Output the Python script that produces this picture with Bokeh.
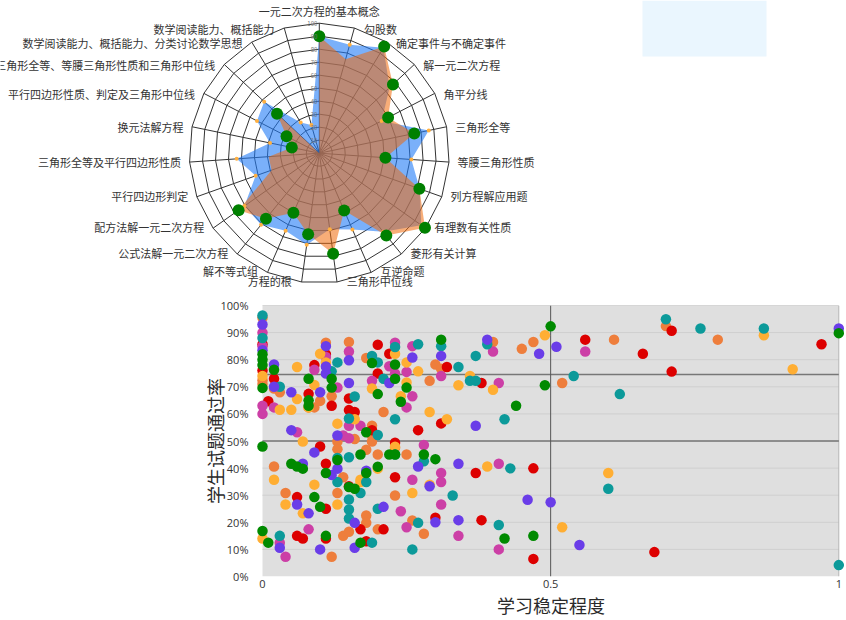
import numpy as np
from bokeh.plotting import figure
from bokeh.models import Range1d, FixedTicker, BoxAnnotation, Column
from bokeh.core.properties import value
from bokeh.embed import file_html
from bokeh.resources import INLINE

CJK = "Noto Sans CJK SC"

radar_labels = ["一元二次方程的基本概念", "勾股数", "确定事件与不确定事件", "解一元二次方程", "角平分线",
                "三角形全等", "等腰三角形性质", "列方程解应用题", "有理数有关性质", "菱形有关计算", "互逆命题",
                "三角形中位线", "方程的根", "解不等式组", "公式法解一元二次方程", "配方法解一元二次方程",
                "平行四边形判定", "三角形全等及平行四边形性质", "换元法解方程", "平行四边形性质、判定及三角形中位线",
                "三角形全等、等腰三角形性质和三角形中位线", "数学阅读能力、概括能力、分类讨论数学思想", "数学阅读能力、概括能力"]
radar_blue = [90, 86.7, 95, 74, 54, 86, 71, 82, 96, 78, 64, 59, 71, 65, 71, 70.5, 52, 63.7, 38.7, 54, 58, 27.6, 22.5]
radar_orange = [90, 75, 96, 77.5, 59.6, 74.6, 51, 81.7, 99.5, 81.7, 48, 78, 63, 50, 65, 76, 39, 39, 21.6, 28.4, 44.5, 0, 0]
radar_has_green = [1, 0, 1, 1, 1, 1, 1, 1, 1, 1, 1, 1, 1, 1, 1, 1, 0, 0, 1, 1, 1, 0, 0]
radar_ticks = [10, 20, 30, 40, 50, 60, 70, 80, 90, 100]

green_x = [0,0,0,0,0,0,.01,.02,.05,.06,.07,.08,.08,.08,.09,.10,.11,.11,.12,.12,.13,.15,.16,.17,.17,.18,.18,.19,.20,.20,.22,.23,.23,.23,.24,.25,.28,.30,.31,.42,.44,.47,.49,.50,1]
green_y = [82,80,78,69.6,48,16.8,12.5,76.3,41.6,40.6,39.8,73,65,63,29.3,25.7,38.2,15,73,69.7,43,33,32.4,45,12.5,53.2,38.2,78.8,67.3,40.5,45,78.2,73,45,64.5,69.7,45,43.3,87.4,14,63,15,70.6,92.3,89.8]
teal_x = [0,0,.03,.03,.12,.13,.13,.13,.15,.15,.15,.15,.15,.16,.17,.18,.19,.19,.20,.20,.20,.21,.23,.23,.23,.26,.27,.27,.28,.31,.33,.34,.36,.37,.37,.39,.42,.43,.41,.54,.60,.62,.70,.76,.87,1]
teal_y = [96.3,88,70,15,75.7,79,43.7,34.9,58.3,44,28.4,24.7,21.4,66.4,30.8,34.9,81.4,12.5,79,52.2,25,73,84.7,58,45,10,85.7,19.8,42.5,85,29.9,77.3,72.2,72.2,81.4,85.7,58,39.9,19,74,32.4,67.3,94.9,91.5,91.5,4.2]
orange_x = [0,0,0,.02,.02,.03,.04,.08,.09,.10,.11,.12,.12,.13,.13,.13,.14,.14,.15,.15,.16,.18,.18,.18,.18,.19,.19,.19,.20,.20,.21,.23,.23,.25,.26,.28,.29,.30,.31,.40,.45,.47,.52,.61,.70,.79]
orange_y = [95.5,72.4,71,69.4,40.6,68,30.8,62.4,62.4,64.8,86.3,66.5,7.3,49.8,47,30.8,36.6,15,86.5,16.5,50.7,80.6,46.8,22.5,19.8,55.6,52,49.8,45,17.4,60.7,47.5,29.9,45,20.7,15.8,72.2,78.2,76.7,86.5,84,86.5,71.4,87.4,92.4,87.4]
yellow_x = [0,0,.02,.03,.04,.05,.06,.06,.07,.07,.08,.09,.09,.10,.11,.13,.13,.16,.17,.17,.19,.20,.23,.23,.24,.25,.25,.26,.27,.29,.29,.32,.34,.36,.39,.40,.49,.52,.60,.87,.92]
yellow_y = [74,14,35.7,61.5,26.6,61.5,77.3,65.5,49.8,23.3,62.4,70.7,33.9,82.2,79,56.4,26.6,58,35.7,34.9,69.4,39.8,82.2,47.9,66.5,79,71.6,30.8,75.7,60.7,33.9,58,70.6,74,40.6,68.9,89,18.2,38.2,89,76.5]
red_x = [0,0,.01,.02,.06,.06,.07,.08,.09,.10,.11,.11,.11,.11,.12,.15,.15,.15,.16,.17,.18,.19,.20,.20,.21,.22,.23,.23,.27,.30,.31,.32,.37,.38,.38,.47,.47,.56,.66,.68,.71,.71,.97]
red_y = [85.7,76,64.7,73,29.3,15,14,67.4,78,48,41.6,25,14,82,63,65.7,61.4,33.3,60.7,17.4,13,54,85.5,74.9,17.4,82.2,49.4,36.6,54,21.7,56.5,77.3,38.2,71.4,20.8,39.9,6.5,87.4,82.2,9,90.7,75.6,85.7]
violet_x = [0,0,.02,.02,.03,.05,.05,.06,.07,.08,.09,.10,.10,.11,.11,.11,.12,.13,.13,.15,.15,.16,.16,.18,.21,.22,.26,.27,.29,.30,.31,.34,.34,.37,.39,.46,.48,.50,.51,.55,1]
violet_y = [93,83.5,78.2,70,10.6,68,54,26.6,41.6,23.3,45.8,68,10,85,77.5,74.9,37.5,52,39.8,79.8,71.4,19.8,10.6,39,25.7,71.4,80.8,40.6,33.3,20,81.4,41.6,20.8,55.6,87.4,28.3,82.2,27.4,84.8,11.6,91.5]
magenta_x = [0,0,0,0,.02,.03,.04,.06,.08,.09,.11,.13,.14,.15,.15,.15,.17,.19,.22,.23,.23,.24,.25,.25,.25,.26,.26,.26,.28,.31,.31,.31,.31,.34,.40,.41,.41,.41,.56]
magenta_y = [90,85,63,60,62.4,12.5,7.3,53.2,17.4,76.3,81,69.7,52,83,55.6,51,55.6,72.2,77.6,86.3,74.9,24.1,75.5,62.4,18.2,85,66.5,35.7,48.5,74,38.2,34.9,26.6,15,83,71.4,41.6,10,83]

y_ticks = [0, 10, 20, 30, 40, 50, 60, 70, 80, 90, 100]
x_ticks = [0, 0.5, 1]
mean_x = 0.5
mean_y = 50
upper_y = 74.5

# ---------- radar ----------
W, H1, H2 = 846, 295, 325
SCALE = 1.3          # px per radar unit
CX, CY = 318.8, 152.7
p1 = figure(width=W, height=H1, output_backend="svg", toolbar_location=None,
            x_axis_type=None, y_axis_type=None, min_border=0, outline_line_color=None,
            x_range=Range1d(-CX / SCALE, (W - CX) / SCALE),
            y_range=Range1d(-(H1 - CY) / SCALE, CY / SCALE))
n = len(radar_labels)
theta = np.arange(n) * 2 * np.pi / n
sx, cy = np.sin(theta), np.cos(theta)

p1.multi_line([list(t * np.append(sx, sx[0])) for t in radar_ticks],
              [list(t * np.append(cy, cy[0])) for t in radar_ticks],
              line_color="#333333", line_width=1)
p1.multi_line([[0, 100 * a] for a in sx], [[0, 100 * b] for b in cy], line_color="#333333", line_width=1)

blue = np.array(radar_blue)
orange = np.array(radar_orange)
p1.patch(blue * sx, blue * cy, fill_color="rgb(33,123,247)", fill_alpha=0.6, line_color=None)
p1.patch(orange * sx, orange * cy, fill_color="rgb(240,105,10)", fill_alpha=0.55, line_color=None)
p1.scatter(blue * sx, blue * cy, size=4, fill_color="#ffb040", line_color=None)
mask = np.array(radar_has_green) == 1
p1.scatter((orange * sx)[mask], (orange * cy)[mask], size=12, fill_color="#008000", line_color=None)

tick_src = [str(t) for t in radar_ticks]
p1.text([0] * len(radar_ticks), radar_ticks, text=tick_src, text_font=value(CJK), text_font_size="6px",
        text_color="#777777", text_align="right", text_baseline="middle", x_offset=-2)

R_LABEL = 128.6 / SCALE
align = ["center" if i == 0 else ("left" if i < 12 else "right") for i in range(n)]
offs = [0 if i == 0 else (10 if i < 12 else -10) for i in range(n)]
lab_y = R_LABEL * cy
lab_y[0] = (CY - 10) / SCALE
p1.text(x=R_LABEL * sx, y=lab_y, text=radar_labels,
        text_font=value(CJK), text_font_size="11px", text_color="#333333",
        text_baseline="middle", text_align=align, x_offset=offs)

p1.add_layout(BoxAnnotation(left=642, right=766, top=H1, bottom=H1 - 56,
                            left_units="screen", right_units="screen",
                            top_units="screen", bottom_units="screen",
                            fill_color="#eaf6fe", fill_alpha=1, line_color=None))

# ---------- scatter ----------
PW = 576.0
p2 = figure(width=W, height=H2, output_backend="svg", toolbar_location=None,
            min_border_left=255, min_border_right=0, min_border_top=10, min_border_bottom=43,
            outline_line_color=None,
            x_range=Range1d(-7 / PW, 1 + 7.7 / PW), y_range=Range1d(0, 100))
p2.xgrid.visible = False
p2.ygrid.visible = False

p2.quad(left=[x_ticks[0]], right=[x_ticks[-1]], bottom=[y_ticks[0]], top=[y_ticks[-1]],
        fill_color="#dfdfdf", line_color=None)
p2.segment([x_ticks[0]] * 9, y_ticks[1:-1], [x_ticks[-1]] * 9, y_ticks[1:-1], line_color="#cfcfcf", line_width=1)
p2.segment([x_ticks[0]], [y_ticks[-1]], [x_ticks[-1]], [y_ticks[-1]], line_color="#b5b5b5", line_width=1)
p2.segment([x_ticks[-1]], [y_ticks[0]], [x_ticks[-1]], [y_ticks[-1]], line_color="#b5b5b5", line_width=1)
p2.segment([x_ticks[0]], [upper_y], [x_ticks[-1]], [upper_y], line_color="#777777", line_width=1.5)
p2.segment([x_ticks[0]], [mean_y], [x_ticks[-1]], [mean_y], line_color="#444444", line_width=1)
p2.segment([mean_x], [y_ticks[0]], [mean_x], [y_ticks[-1]], line_color="#555555", line_width=1)

for xs, ys, col in [(orange_x, orange_y, "#ee7e3c"), (red_x, red_y, "#dd0000"), (magenta_x, magenta_y, "#cc3fa6"),
                    (yellow_x, yellow_y, "#ffae33"), (teal_x, teal_y, "#0c9a9a"), (violet_x, violet_y, "#6a3de8"),
                    (green_x, green_y, "#008a00")]:
    p2.scatter(xs, ys, size=10.5, fill_color=col, line_color=None)

p2.xaxis.ticker = FixedTicker(ticks=x_ticks)
p2.xaxis.major_label_overrides = {0: "0", 0.5: "0.5", 1: "1"}
p2.yaxis.ticker = FixedTicker(ticks=y_ticks)
p2.yaxis.major_label_overrides = {t: f"{t}%" for t in y_ticks}
for ax in (p2.xaxis[0], p2.yaxis[0]):
    ax.axis_line_color = None
    ax.major_tick_line_color = None
    ax.minor_tick_line_color = None
    ax.major_label_text_font = "Open Sans"
    ax.major_label_text_font_size = "11px"
    ax.major_label_text_color = "#333333"
    ax.axis_label_text_font = CJK
    ax.axis_label_text_font_size = "18px"
    ax.axis_label_text_font_style = "normal"
    ax.axis_label_text_color = "#2a2a2a"
p2.xaxis[0].major_label_standoff = -3
p2.xaxis[0].axis_label_standoff = 1
p2.yaxis[0].major_label_standoff = 1
p2.yaxis[0].axis_label_standoff = -10
p2.xaxis.axis_label = "学习稳定程度"
p2.yaxis.axis_label = "学生试题通过率"

page = Column(children=[Column(children=[p1]), Column(children=[p2])], spacing=0)
open("out.html", "w").write(file_html(page, INLINE))
